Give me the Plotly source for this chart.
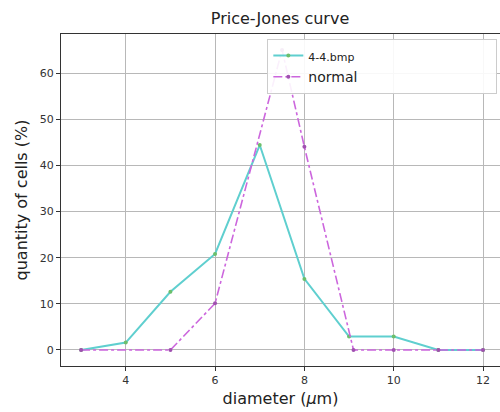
import plotly.graph_objects as go

# Data
bmp_x = [3, 4, 5, 6, 7, 8, 9, 10, 11, 12]
bmp_y = [0, 1.6, 12.6, 20.8, 44.4, 15.4, 2.9, 2.9, 0, 0]

normal_x = [3, 5, 6, 7.5, 8, 9.1, 10, 11, 12]
normal_y = [0, 0, 10.1, 65, 44, 0, 0, 0, 0]

x_ticks = [4, 6, 8, 10, 12]
y_ticks = [0, 10, 20, 30, 40, 50, 60]

fig = go.Figure()
fig.add_trace(go.Scatter(
    x=bmp_x, y=bmp_y, mode="lines+markers",
    name="<span style='font-size:11px'>4-4.bmp</span>",
    line=dict(color="#5fcfcf", width=2),
    marker=dict(color="#6cbf6c", size=4),
))
fig.add_trace(go.Scatter(
    x=normal_x, y=normal_y, mode="lines+markers",
    name="normal" + "&nbsp;" * 30,
    line=dict(color="#cc66dd", width=1.6, dash="dashdot"),
    marker=dict(color="#a050b0", size=4),
))

axis_common = dict(
    showgrid=True, gridcolor="#b8b8b8", gridwidth=1,
    showline=True, linecolor="#333333", linewidth=1.2, mirror=True,
    ticks="outside", ticklen=4, tickcolor="#333333",
    tickfont=dict(family="DejaVu Sans", size=11, color="#333333"),
    zeroline=False,
)

fig.update_layout(
    width=500, height=412,
    margin=dict(l=61, r=0, t=34, b=46),
    paper_bgcolor="white", plot_bgcolor="white",
    title=dict(text="Price-Jones curve", x=0.56, xanchor="center", y=0.955, yanchor="middle",
               font=dict(family="DejaVu Sans", size=16, color="#222222")),
    xaxis=dict(axis_common, range=[2.55, 12.38], tickvals=x_ticks,
               title=dict(text="diameter (<i>μ</i>m)", standoff=6,
                          font=dict(family="DejaVu Sans", size=16, color="#222222"))),
    yaxis=dict(axis_common, range=[-3.47, 68.45], tickvals=y_ticks,
               title=dict(text="quantity of cells (%)", standoff=8,
                          font=dict(family="DejaVu Sans", size=16, color="#222222"))),
    legend=dict(x=0.47, y=0.985, xanchor="left", yanchor="top",
                bgcolor="rgba(255,255,255,0.9)", bordercolor="#cccccc", borderwidth=1,
                font=dict(family="DejaVu Sans", size=14, color="#222222"),
                itemwidth=30),
    showlegend=True,
)

fig.write_html("out.html")
